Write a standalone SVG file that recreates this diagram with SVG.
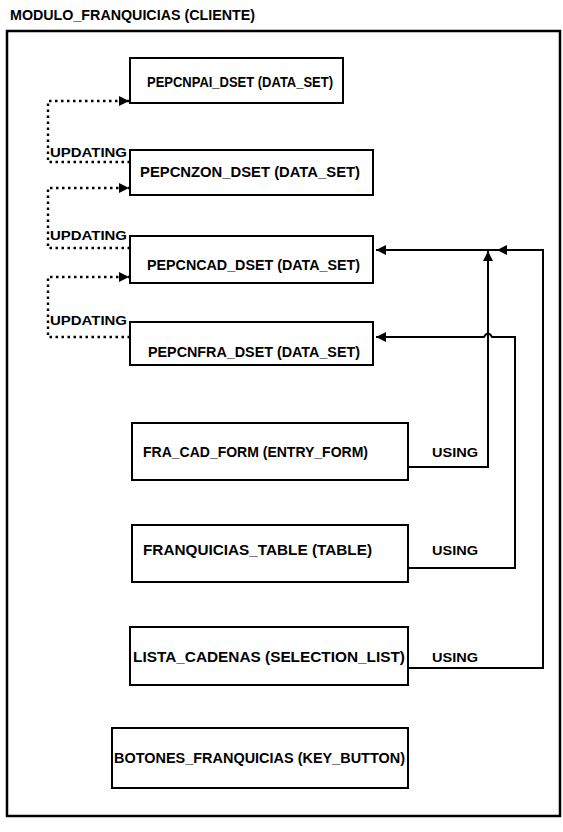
<svg xmlns="http://www.w3.org/2000/svg" width="563" height="832" viewBox="0 0 563 832">
<style>
text{font-family:"Liberation Sans",Arial,sans-serif;font-weight:bold;font-size:14px;fill:#000}
.box{fill:#fff;stroke:#000;stroke-width:2}
.ln{fill:none;stroke:#000;stroke-width:2}
.dot{fill:none;stroke:#000;stroke-width:2.4;stroke-dasharray:2.5 3.5}
.lbl{font-size:13px}
</style>
<defs>
<marker id="ah" viewBox="0 0 10 10" refX="10" refY="5" markerUnits="userSpaceOnUse" markerWidth="11" markerHeight="10" orient="auto">
<path d="M0,0 L10,5 L0,10 z" fill="#000" stroke="none"/>
</marker>
</defs>
<rect width="563" height="832" fill="#fff"/>
<text x="10" y="20" textLength="245" lengthAdjust="spacingAndGlyphs">MODULO_FRANQUICIAS (CLIENTE)</text>
<rect x="7" y="31" width="553" height="785" fill="none" stroke="#000" stroke-width="2.5"/>

<g id="connectors">
<path class="dot" d="M130,162 H48 V101 H129" marker-end="url(#ah)"/>
<path class="dot" d="M130,248 H48 V188 H129" marker-end="url(#ah)"/>
<path class="dot" d="M130,337 H48 V277 H129" marker-end="url(#ah)"/>
<text class="lbl" x="50" y="157" textLength="77" lengthAdjust="spacingAndGlyphs">UPDATING</text>
<text class="lbl" x="50" y="240" textLength="77" lengthAdjust="spacingAndGlyphs">UPDATING</text>
<text class="lbl" x="50" y="325" textLength="77" lengthAdjust="spacingAndGlyphs">UPDATING</text>

<path class="ln" d="M408,467 H488 V251" marker-end="url(#ah)"/>
<path class="ln" d="M408,568 H515 V337 H492 Q488,330 484,337 H376" marker-end="url(#ah)"/>
<path class="ln" d="M408,668 H543 V250 H497" marker-end="url(#ah)"/>
<path class="ln" d="M497,250 H376" marker-end="url(#ah)"/>
<text class="lbl" x="432" y="457" textLength="46" lengthAdjust="spacingAndGlyphs">USING</text>
<text class="lbl" x="432" y="555" textLength="46" lengthAdjust="spacingAndGlyphs">USING</text>
<text class="lbl" x="432" y="662" textLength="46" lengthAdjust="spacingAndGlyphs">USING</text>
</g>

<g id="pepcnpai">
<rect class="box" x="130" y="58" width="213" height="45"/>
<text x="147" y="87" textLength="186" lengthAdjust="spacingAndGlyphs">PEPCNPAI_DSET (DATA_SET)</text>
</g>
<g id="pepcnzon">
<rect class="box" x="130" y="150" width="243" height="45"/>
<text x="140" y="177" textLength="220" lengthAdjust="spacingAndGlyphs">PEPCNZON_DSET (DATA_SET)</text>
</g>
<g id="pepcncad">
<rect class="box" x="130" y="236" width="243" height="47"/>
<text x="147" y="270" textLength="213" lengthAdjust="spacingAndGlyphs">PEPCNCAD_DSET (DATA_SET)</text>
</g>
<g id="pepcnfra">
<rect class="box" x="130" y="322" width="243" height="43"/>
<text x="148" y="357" textLength="212" lengthAdjust="spacingAndGlyphs">PEPCNFRA_DSET (DATA_SET)</text>
</g>
<g id="fra_cad_form">
<rect class="box" x="132" y="423" width="276" height="57"/>
<text x="143" y="457" textLength="225" lengthAdjust="spacingAndGlyphs">FRA_CAD_FORM (ENTRY_FORM)</text>
</g>
<g id="franquicias_table">
<rect class="box" x="132" y="525" width="276" height="57"/>
<text x="143" y="555" textLength="229" lengthAdjust="spacingAndGlyphs">FRANQUICIAS_TABLE (TABLE)</text>
</g>
<g id="lista_cadenas">
<rect class="box" x="130" y="627" width="278" height="58"/>
<text x="133" y="662" textLength="272" lengthAdjust="spacingAndGlyphs">LISTA_CADENAS (SELECTION_LIST)</text>
</g>
<g id="botones">
<rect class="box" x="112" y="728" width="296" height="60"/>
<text x="114" y="763" textLength="291" lengthAdjust="spacingAndGlyphs">BOTONES_FRANQUICIAS (KEY_BUTTON)</text>
</g>
</svg>
